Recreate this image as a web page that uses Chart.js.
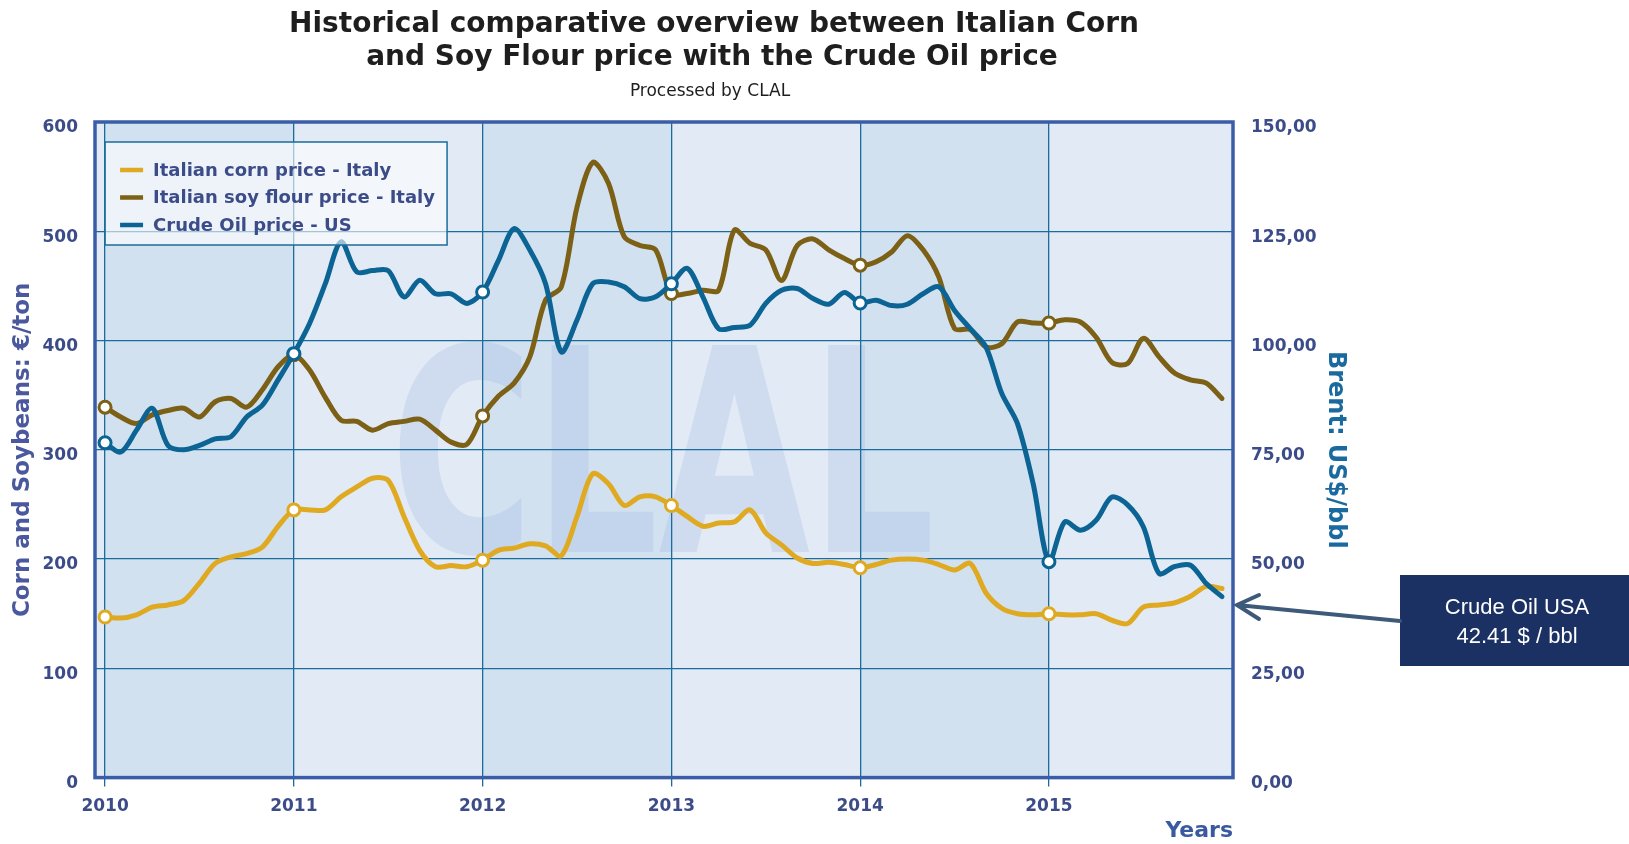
<!DOCTYPE html>
<html>
<head>
<meta charset="utf-8">
<title>Italian corn and soy flour vs crude oil</title>
<script src="https://cdn.jsdelivr.net/npm/chart.js@4.4.1/dist/chart.umd.min.js"></script>
<style>
    html, body { margin: 0; padding: 0; background: #fff; }
    #wrap { width: 1629px; height: 844px; position: relative; }
</style>
</head>
<body>
<div id="wrap"><canvas id="prices"></canvas></div>
<script>
// monthly values, Jan 2010 -> Dec 2015
const years = ['2010', '2011', '2012', '2013', '2014', '2015'];

// Italian corn price - Italy (€/ton)
const cornPrice = [
    147, 146, 149, 156, 158, 162, 178, 196, 202, 205, 211, 230,
    245, 245, 245, 257, 266, 274, 272, 239, 208, 193, 194, 193,
    199, 208, 210, 214, 212, 203, 239, 278, 269, 249, 257, 257,
    249, 239, 230, 233, 234, 245, 224, 213, 201, 196, 197, 195,
    192, 195, 199, 200, 199, 195, 190, 196, 169, 155, 150, 149,
    150, 149, 149, 150, 144, 141, 156, 158, 160, 166, 175, 173
];

// Italian soy flour price - Italy (€/ton)
const soyPrice = [
    339, 330, 324, 332, 336, 338, 330, 344, 347, 339, 355, 376,
    387, 373, 348, 327, 326, 318, 324, 326, 328, 318, 307, 305,
    331, 349, 361, 385, 437, 449, 522, 563, 544, 495, 487, 483,
    443, 443, 446, 446, 501, 489, 483, 455, 487, 493, 483, 475,
    469, 472, 481, 496, 483, 458, 411, 410, 394, 397, 417, 416,
    416, 419, 417, 403, 380, 379, 402, 385, 370, 364, 361, 347
];

// Crude Oil price - US (US$/bbl)
const oilPrice = [
    76.6, 74.5, 79.5, 84.5, 76.0, 75.0, 76.0, 77.5, 78.0, 82.5, 85.2, 91.0,
    97.0, 103.9, 113.0, 122.6, 115.7, 116.0, 116.0, 110.0, 113.8, 110.7, 110.7, 108.5,
    111.1, 118.3, 125.6, 120.7, 113.0, 97.4, 104.7, 113.0, 113.4, 112.3, 109.6, 110.0,
    113.0, 116.5, 110.0, 102.7, 103.0, 103.5, 108.5, 111.5, 111.9, 109.6, 108.3, 111.0,
    108.6, 109.2, 108.0, 108.3, 110.7, 112.3, 106.9, 102.7, 98.5, 87.9, 81.0, 67.2,
    49.4, 58.5, 56.6, 58.9, 64.2, 62.4, 57.4, 46.7, 48.3, 48.6, 44.4, 41.4
];

const leftTicks = [0, 100, 200, 300, 400, 500, 600];
const rightTicks = [0, 25, 50, 75, 100, 125, 150];
const lastOil = '42.41';

const titleLines = ['Historical comparative overview between Italian Corn',
                    'and Soy Flour price with the Crude Oil price'];
const subtitleText = 'Processed by CLAL';

const cornColor = '#dfaa22';
const soyColor = '#7b6015';
const oilColor = '#0b6494';
const gridColor = '#1a6c9c';
const tickColor = '#3c4c89';

function monthly(values) {
    return values.map((v, i) => ({ x: i, y: v }));
}

function yearMarker(ctx) {
    return ctx.dataIndex % 12 === 0 ? 6 : 0;
}

function series(label, values, color, axis, order) {
    return {
        label: label,
        data: monthly(values),
        yAxisID: axis,
        order: order,
        borderColor: color,
        backgroundColor: color,
        borderWidth: 5,
        borderCapStyle: 'round',
        borderJoinStyle: 'round',
        tension: 0.3,
        pointRadius: yearMarker,
        pointHoverRadius: yearMarker,
        pointBackgroundColor: '#ffffff',
        pointBorderColor: color,
        pointBorderWidth: 3
    };
}

// year bands + CLAL watermark behind the grid, titles on top
const bandsPlugin = {
    id: 'bands',
    beforeDraw(chart) {
        const { ctx, chartArea: a, scales: { x } } = chart;
        ctx.save();
        ctx.fillStyle = '#e2eaf5';
        ctx.fillRect(a.left, a.top, a.right - a.left, a.bottom - a.top);
        ctx.fillStyle = '#d2e1f0';
        for (let i = 0; i < years.length; i += 2) {
            const x0 = x.getPixelForValue(i * 12);
            const x1 = Math.min(x.getPixelForValue((i + 1) * 12), a.right);
            ctx.fillRect(x0, a.top, x1 - x0, a.bottom - a.top);
        }

        // titles (drawn here so they can be centred like the original)
        ctx.fillStyle = '#1e1e1e';
        ctx.textAlign = 'center';
        ctx.textBaseline = 'middle';
        ctx.font = 'bold 28px "DejaVu Sans"';
        ctx.fillText(titleLines[0], 714, 25);
        ctx.fillText(titleLines[1], 712, 58);
        ctx.font = '17px "DejaVu Sans"';
        ctx.fillText(subtitleText, 710, 92);

        // watermark
        ctx.font = 'bold 200px "DejaVu Sans"';
        ctx.textAlign = 'left';
        ctx.textBaseline = 'alphabetic';
        const w = ctx.measureText('CLAL').width;
        ctx.translate(a.left + 295, a.top + 430);
        ctx.scale(545 / w, 1.42);
        ctx.fillStyle = 'rgba(135, 165, 220, 0.2)';
        ctx.fillText('CLAL', 0, 0);
        ctx.restore();
    }
};

// frame, legend box and the callout
const overlayPlugin = {
    id: 'overlay',
    afterDatasetsDraw(chart) {
        const { ctx, chartArea: a, scales: { x } } = chart;
        ctx.save();
        // frame
        ctx.strokeStyle = '#3b5ca6';
        ctx.lineWidth = 3.5;
        ctx.strokeRect(a.left, a.top, a.right - a.left, a.bottom - a.top);

        // legend
        const lx = x.getPixelForValue(0);
        const ly = a.top + 20;
        ctx.fillStyle = 'rgba(255, 255, 255, 0.6)';
        ctx.fillRect(lx, ly, 342, 103);
        ctx.strokeStyle = gridColor;
        ctx.lineWidth = 1.5;
        ctx.strokeRect(lx, ly, 342, 103);
        ctx.font = 'bold 18px "DejaVu Sans"';
        ctx.textBaseline = 'middle';
        chart.data.datasets.forEach((ds, i) => {
            const cy = ly + 28 + i * 27.5;
            ctx.strokeStyle = ds.borderColor;
            ctx.lineWidth = 4.5;
            ctx.beginPath();
            ctx.moveTo(lx + 15, cy);
            ctx.lineTo(lx + 38, cy);
            ctx.stroke();
            ctx.fillStyle = tickColor;
            ctx.fillText(ds.label, lx + 48, cy + 1);
        });
        ctx.restore();
    },
    afterDraw(chart) {
        const { ctx, chartArea: a, scales } = chart;
        const tipY = scales.yRight.getPixelForValue(39.5);
        ctx.save();
        ctx.fillStyle = '#1b3164';
        ctx.fillRect(1400, 575, 229, 91);
        ctx.fillStyle = '#ffffff';
        ctx.font = '22px "Liberation Sans"';
        ctx.textAlign = 'center';
        ctx.textBaseline = 'middle';
        ctx.fillText('Crude Oil USA', 1517, 608);
        ctx.fillText(lastOil + ' $ / bbl', 1517, 637);

        ctx.strokeStyle = '#3e5a7a';
        ctx.lineWidth = 4;
        ctx.lineCap = 'round';
        ctx.beginPath();
        ctx.moveTo(1400, tipY + 16);
        ctx.lineTo(a.right + 4, tipY);
        ctx.moveTo(a.right + 26, tipY - 10);
        ctx.lineTo(a.right + 4, tipY);
        ctx.lineTo(a.right + 26, tipY + 14);
        ctx.stroke();
        ctx.restore();
    }
};

const boldTick = { family: 'DejaVu Sans', size: 17, weight: 'bold' };

new Chart(document.getElementById('prices'), {
    type: 'line',
    data: {
        datasets: [
            series('Italian corn price - Italy', cornPrice, cornColor, 'y', 3),
            series('Italian soy flour price - Italy', soyPrice, soyColor, 'y', 2),
            series('Crude Oil price - US', oilPrice, oilColor, 'yRight', 1)
        ]
    },
    options: {
        responsive: true,
        maintainAspectRatio: false,
        animation: false,
        layout: { padding: { left: 0, right: 279, top: 122, bottom: 0 } },
        plugins: {
            legend: { display: false },
            tooltip: { enabled: false },
            title: { display: false },
            subtitle: { display: false }
        },
        scales: {
            x: {
                type: 'linear',
                min: -0.64,
                max: 71.7,
                afterBuildTicks(scale) {
                    scale.ticks = years.map((y, i) => ({ value: i * 12 }));
                },
                afterFit(scale) { scale.height = 66.4; },
                ticks: {
                    color: tickColor,
                    font: boldTick,
                    padding: 10,
                    maxRotation: 0,
                    callback: (v, i) => years[i]
                },
                grid: { color: gridColor, lineWidth: 1.3, tickLength: 9, drawTicks: true },
                border: { display: false },
                title: {
                    display: true,
                    text: 'Years',
                    align: 'end',
                    color: '#3a5aa0',
                    font: { family: 'DejaVu Sans', size: 22, weight: 'bold', lineHeight: 1.2 },
                    padding: 0
                }
            },
            y: {
                position: 'left',
                min: 0,
                max: 600,
                afterBuildTicks(scale) {
                    scale.ticks = leftTicks.map(v => ({ value: v }));
                },
                afterFit(scale) { scale.width = 95; },
                ticks: { color: tickColor, font: boldTick, padding: 17, labelOffset: 6 },
                grid: { color: gridColor, lineWidth: 1.3, drawTicks: false },
                border: { display: false },
                title: {
                    display: true,
                    text: 'Corn and Soybeans: €/ton',
                    color: '#4a589e',
                    font: { family: 'DejaVu Sans', size: 23, weight: 'bold', lineHeight: 1.2 },
                    padding: { top: 9, bottom: 0 }
                }
            },
            yRight: {
                position: 'right',
                min: 0,
                max: 150,
                afterBuildTicks(scale) {
                    scale.ticks = rightTicks.map(v => ({ value: v }));
                },
                afterFit(scale) { scale.width = 117; },
                ticks: {
                    color: tickColor,
                    font: boldTick,
                    padding: 18,
                    labelOffset: 6,
                    callback: v => v.toFixed(2).replace('.', ',')
                },
                grid: { display: false, drawTicks: false },
                border: { display: false },
                title: {
                    display: true,
                    text: 'Brent: US$/bbl',
                    color: '#1a6aa0',
                    font: { family: 'DejaVu Sans', size: 24, weight: 'bold', lineHeight: 1.2 },
                    padding: { top: 0, bottom: 0 }
                }
            }
        }
    },
    plugins: [bandsPlugin, overlayPlugin]
});
</script>
</body>
</html>
